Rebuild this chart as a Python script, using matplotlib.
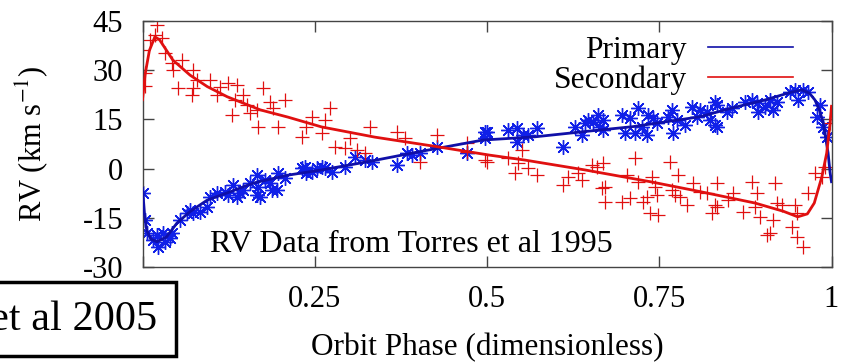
import matplotlib
matplotlib.use("Agg")
import matplotlib.pyplot as plt
from matplotlib.lines import Line2D
from matplotlib.patches import Rectangle

plt.rcParams['font.family'] = ['Liberation Serif', 'DejaVu Serif']
plt.rcParams['mathtext.fontset'] = 'stix'
plt.rcParams['axes.unicode_minus'] = False

# ---------- data ----------

# model curves (phase, km/s)
prim_curve_phase = [0.0, 0.003, 0.006, 0.012, 0.021, 0.035, 0.05, 0.069, 0.094, 0.123,
                    0.161, 0.211, 0.26, 0.327, 0.403, 0.494, 0.57, 0.642, 0.712, 0.809,
                    0.856, 0.903, 0.94, 0.957, 0.968, 0.976, 0.983, 0.988, 0.995, 0.998, 1.0]
prim_curve_rv = [-6.0, -14.0, -18.7, -21.5, -22.3, -20.8, -16.6, -13.1, -9.6, -7.4,
                 -4.4, -2.0, -0.4, 2.1, 5.2, 8.7, 9.7, 11.3, 12.8, 15.8,
                 18.5, 20.9, 23.2, 24.0, 23.0, 20.9, 17.5, 13.9, 4.8, -1.3, -4.0]

sec_curve_phase = [0.0, 0.004, 0.01, 0.018, 0.025, 0.044, 0.069, 0.094, 0.123, 0.171,
                   0.211, 0.26, 0.337, 0.427, 0.504, 0.555, 0.642, 0.737, 0.809, 0.889,
                   0.93, 0.951, 0.965, 0.975, 0.986, 0.993, 0.998, 1.0]
sec_curve_rv = [21.0, 29.0, 36.0, 40.2, 39.2, 33.1, 28.5, 25.0, 21.9, 17.9,
                15.7, 12.7, 9.6, 6.7, 4.1, 2.6, -0.4, -4.0, -7.0, -10.5,
                -13.0, -14.7, -13.8, -10.5, -2.5, 4.7, 13.9, 19.0]

# primary observations (asterisks)
prim_phase = [0.0, 0.004, 0.006, 0.015, 0.023, 0.021, 0.030, 0.033, 0.043, 0.040,
              0.054, 0.065, 0.069, 0.073, 0.083, 0.094, 0.098, 0.108, 0.120, 0.124,
              0.132, 0.137, 0.142, 0.146, 0.156, 0.166, 0.166, 0.168, 0.171, 0.178,
              0.185, 0.188, 0.195, 0.197, 0.207, 0.231, 0.236, 0.238, 0.246, 0.253,
              0.260, 0.265, 0.275, 0.294, 0.308, 0.323, 0.333, 0.369, 0.384, 0.391,
              0.403, 0.427, 0.471, 0.497, 0.497, 0.500, 0.530, 0.543, 0.543, 0.552,
              0.559, 0.572, 0.610, 0.628, 0.638, 0.642, 0.647, 0.654, 0.661, 0.664,
              0.669, 0.669, 0.696, 0.700, 0.708, 0.715, 0.719, 0.725, 0.732, 0.734,
              0.741, 0.747, 0.763, 0.768, 0.770, 0.776, 0.787, 0.797, 0.805, 0.809,
              0.819, 0.824, 0.831, 0.831, 0.834, 0.834, 0.848, 0.856, 0.874, 0.885,
              0.892, 0.894, 0.904, 0.911, 0.915, 0.921, 0.940, 0.947, 0.951, 0.959,
              0.966, 0.983, 0.979, 0.988, 0.993]
prim_rv = [-7.4, -15.7, -19.6, -21.8, -23.9, -20.3, -19.6, -22.4, -19.6, -21.2,
           -15.7, -13.5, -12.6, -13.5, -13.2, -11.7, -8.7, -7.4, -7.1, -8.0,
           -5.0, -8.7, -7.4, -6.5, -4.4, -2.0, -8.0, -5.6, -8.7, -3.5,
           -4.4, -6.5, -6.5, -1.3, -2.9, 0.2, 0.5, -1.3, -1.0, 0.2,
           0.5, 0.2, -1.0, 0.5, 3.5, 2.6, 2.0, 1.1, 4.8, 4.1,
           4.8, 6.6, 4.8, 11.2, 9.3, 11.2, 11.8, 12.4, 8.1, 10.2,
           10.2, 12.4, 6.6, 12.7, 10.2, 13.9, 14.8, 14.2, 16.3, 12.7,
           14.8, 11.8, 16.3, 10.9, 15.4, 10.9, 18.5, 12.7, 10.2, 16.3,
           15.4, 13.9, 15.7, 17.9, 10.9, 14.8, 13.3, 18.8, 15.7, 17.9,
           17.3, 14.8, 20.3, 13.3, 19.4, 12.7, 17.3, 18.5, 20.3, 20.9,
           20.0, 17.3, 18.8, 20.9, 17.9, 20.3, 23.4, 24.0, 20.9, 24.0,
           23.4, 19.4, 15.7, 12.7, 9.6]

# secondary observations (plus signs)
sec_phase = [0.001, 0.004, 0.004, 0.011, 0.018, 0.021, 0.028, 0.033, 0.043, 0.044,
             0.057, 0.052, 0.073, 0.073, 0.072, 0.079, 0.098, 0.112, 0.108, 0.124,
             0.137, 0.134, 0.146, 0.152, 0.156, 0.166, 0.168, 0.130, 0.175, 0.185,
             0.190, 0.207, 0.197, 0.231, 0.238, 0.246, 0.265, 0.272, 0.260, 0.279,
             0.294, 0.301, 0.311, 0.323, 0.330, 0.369, 0.381, 0.403, 0.427, 0.471,
             0.471, 0.497, 0.500, 0.530, 0.545, 0.551, 0.559, 0.572, 0.541, 0.610,
             0.617, 0.632, 0.638, 0.652, 0.659, 0.667, 0.669, 0.671, 0.671, 0.696,
             0.703, 0.708, 0.715, 0.719, 0.727, 0.732, 0.737, 0.739, 0.744, 0.748,
             0.747, 0.766, 0.768, 0.773, 0.777, 0.780, 0.790, 0.799, 0.809, 0.819,
             0.827, 0.831, 0.834, 0.834, 0.850, 0.857, 0.872, 0.885, 0.889, 0.892,
             0.896, 0.906, 0.911, 0.915, 0.918, 0.921, 0.928, 0.943, 0.947, 0.950,
             0.959, 0.950, 0.966, 0.976, 0.986, 0.990, 0.998]
sec_rv = [36.2, 29.1, 25.1, 39.2, 40.7, 43.8, 39.8, 35.2, 32.2, 30.1,
          33.1, 24.6, 30.1, 24.6, 22.4, 27.0, 27.0, 24.9, 22.4, 26.1,
          25.5, 20.9, 22.4, 19.4, 17.0, 17.9, 12.7, 16.3, 24.6, 20.3,
          18.5, 20.9, 12.7, 9.6, 12.7, 15.7, 14.8, 18.5, 10.9, 6.6,
          6.3, 9.3, 5.7, 4.8, 12.7, 11.2, 9.3, 2.0, 10.2, 7.8,
          5.1, 2.6, 2.0, 3.2, 1.7, 5.7, 0.2, -2.0, -1.3, -5.0,
          -2.6, -1.3, -3.5, 1.1, 0.5, -5.9, 1.7, -5.6, -10.2, -10.2,
          -2.0, -9.0, 3.2, -4.1, -10.2, -8.7, -13.5, -2.6, -5.6, -14.1,
          -8.0, 2.0, -6.5, -8.0, -2.0, -8.7, -11.1, -4.4, -7.1, -7.4,
          -13.5, -11.1, -4.4, -11.7, -9.6, -7.4, -13.2, -4.1, -11.7, -7.4,
          -14.8, -20.3, -19.6, -15.7, -4.4, -10.5, -11.1, -17.8, -11.1, -20.9,
          -23.9, -13.5, -7.4, -1.3, -2.6, 0.5, 13.9]

x_ticks = [0, 0.25, 0.5, 0.75, 1]
x_tick_labels = ["0", "0.25", "0.5", "0.75", "1"]
y_ticks = [-30, -15, 0, 15, 30, 45]

blue_pts = '#1020e8'
blue_line = '#1010a8'
red = '#e01010'

fig = plt.figure(figsize=(8.49, 3.62), dpi=100)
ax = fig.add_axes([142.5 / 849, 95 / 362, 689 / 849, 246 / 362])

ax.plot(prim_phase, prim_rv, linestyle='none', marker=(8, 2, 0), ms=10.5,
        mew=1.0, color=blue_pts, zorder=2)
ax.plot(sec_phase, sec_rv, linestyle='none', marker='+', ms=10,
        mew=0.9, color=red, zorder=2)
ax.plot(prim_curve_phase, prim_curve_rv, color=blue_line, lw=2, zorder=3)
ax.plot(sec_curve_phase, sec_curve_rv, color=red, lw=2, zorder=3)

ax.set_xlim(0, 1)
ax.set_ylim(-30, 45)
ax.set_xticks(x_ticks)
ax.set_xticklabels(x_tick_labels)
ax.set_yticks(y_ticks)
ax.tick_params(direction='in', length=8, width=1, color='#444444',
               top=True, right=True, labelsize=22)
ax.tick_params(axis='y', pad=14)
ax.tick_params(axis='x', pad=13)
for s in ax.spines.values():
    s.set_color('#444444')
    s.set_linewidth(1)

ax.set_xlabel("Orbit Phase (dimensionless)", fontsize=22.5)
ax.xaxis.set_label_coords(0.5, -0.268)
ax.set_ylabel(r"RV (km s$^{-1}$)", fontsize=22)
ax.yaxis.set_label_coords(-0.134, 0.5)

handles = [Line2D([], [], color=blue_line, lw=1.2),
           Line2D([], [], color=red, lw=1.2)]
ax.legend(handles, ["Primary", "Secondary"], loc='upper right',
          bbox_to_anchor=(0.944, 0.94), frameon=False, markerfirst=False,
          fontsize=22.7, handlelength=2.7, handletextpad=0.66,
          labelspacing=0.03, borderpad=0, borderaxespad=0)

ax.text(0.098, 0.061, "RV Data from Torres et al 1995", transform=ax.transAxes,
        fontsize=23, va='baseline', ha='left')

# boxed reference, cut off at the left edge of the figure
box = Rectangle((-20 / 849, 6 / 362), 196 / 849, 74 / 362, transform=fig.transFigure,
                facecolor='white', edgecolor='black', lw=2.5, zorder=10)
fig.patches.append(box)
fig.text(-10 / 849, 42 / 362, "et al 2005", fontsize=30.5, va='center', ha='left',
         zorder=11)

fig.savefig("out.png", dpi=100)
